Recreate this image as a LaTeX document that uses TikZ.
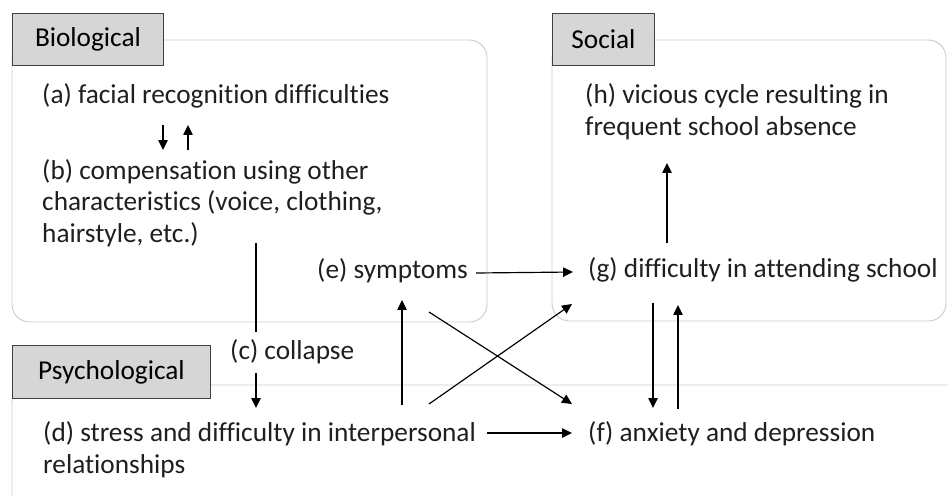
\documentclass[tikz,border=0pt]{standalone}
\usepackage{fontspec}
\setmainfont{Carlito}[Ligatures=NoCommon]
\usetikzlibrary{positioning,calc,arrows.meta}

\tikzset{
  grp/.style={draw=black!20, line width=0.8pt, rounded corners=15pt},
  lbl/.style={draw=black!75, fill=black!16, line width=0.8pt, inner sep=0pt,
    anchor=north west, minimum height=1.56cm},
  txt/.style={inner sep=0pt, anchor=base west, align=left, text=black!88},
  con/.style={line width=1pt},
  arr/.style={con, -{Triangle[length=8.5pt,width=8pt]}},
}

\begin{document}
\begin{tikzpicture}[x=0.03cm, y=-0.03cm, font=\fontsize{23.3}{26.8}\selectfont]
  \useasboundingbox (0,0) rectangle (948,495);
  \clip (0,0) rectangle (948,495);
  % group frames
  \draw[grp] (12,40) rectangle (487,322);
  \draw[grp] (552,40) rectangle (946,321);
  \draw[grp] (12,385) rectangle (1000,560);
  % group labels
  \node[lbl, minimum width=4.53cm] (bio) at (12,13) {Biological};
  \node[lbl, minimum width=3.06cm] (soc) at (552,13) {Social};
  \node[lbl, minimum width=5.94cm, minimum height=1.59cm] (psy) at (12,345) {Psychological};

  % texts (multi-line nodes sit on their last line)
  \node[txt] (a) at (42,103) {(a) facial recognition difficulties};
  \node[txt] (b) at (42,242) {(b) compensation using other\\characteristics (voice, clothing,\\hairstyle, etc.)};
  \node[txt] (c) at (230,359) {(c) collapse};
  \node[txt] (d) at (43,473) {(d) stress and difficulty in interpersonal\\relationships};
  \node[txt] (e) at (317,278) {(e) symptoms};
  \node[txt] (f) at (588,441) {(f) anxiety and depression};
  \node[txt] (g) at (588,277) {(g) difficulty in attending school};
  \node[txt] (h) at (585,135) {(h) vicious cycle resulting in\\frequent school absence};

  % connectors
  \draw[arr] ($(a.base west)+(121,22)$) -- ($(b.base west)+(121,-92)$);
  \draw[arr] ($(b.base west)+(146,-92)$) -- ($(a.base west)+(146,22)$);
  \draw[con] ($(b.base west)+(214,1)$) -- ($(c.base west)+(26,-27)$);
  \draw[arr] ($(c.base west)+(26,14)$) -- ($(d.base west)+(213,-65)$);
  \draw[arr] ($(d.base west)+(359,-68)$) -- ($(e.base west)+(85,22)$);
  \draw[arr] ($(e.base east)+(8,-5)$) -- ($(g.base west)+(-15,-5)$);
  \draw[arr] ($(e.base west)+(112,34)$) -- ($(f.base west)+(-16,-37)$);
  \draw[arr] ($(d.base west)+(386,-69)$) -- ($(g.base west)+(-16,27)$);
  \draw[arr] ($(d.base west)+(444,-40)$) -- ($(f.base west)+(-16,-8)$);
  \draw[arr] ($(g.base west)+(79,-34)$) -- ($(h.base west)+(82,28)$);
  \draw[arr] ($(g.base west)+(65,26)$) -- ($(f.base west)+(65,-33)$);
  \draw[arr] ($(f.base west)+(90,-32)$) -- ($(g.base west)+(90,28)$);
\end{tikzpicture}
\end{document}
